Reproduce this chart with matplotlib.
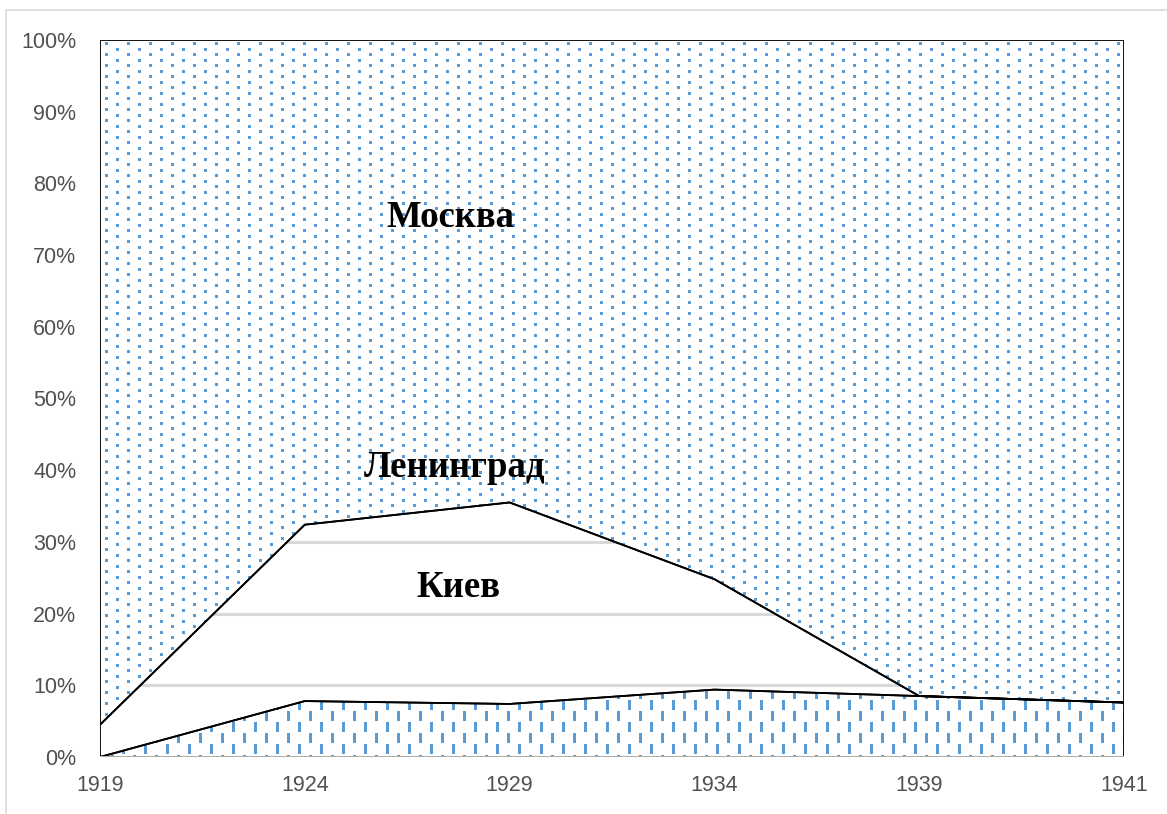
import numpy as np
import matplotlib
matplotlib.use('Agg')
import matplotlib.pyplot as plt
from matplotlib.patches import Polygon, Rectangle

# ---- data (share, %) ----
years = ['1919', '1924', '1929', '1934', '1939', '1941']
kiev = [0.0, 7.8, 7.4, 9.4, 8.5, 7.6]          # bottom layer (dashes)
leningrad = [4.5, 24.6, 28.1, 15.4, 0.0, 0.0]   # middle layer (white)
moscow = [100 - a - b for a, b in zip(kiev, leningrad)]  # top layer (dots)
yticks = list(range(0, 101, 10))
labels = ['Москва', 'Ленинград', 'Киев']
label_pos = [(1.71, 73.9), (1.73, 39.0), (1.75, 22.3)]

BLUE = np.array([0x5B, 0x9B, 0xD5]) / 255.0
W_PX, H_PX = 1167, 814
DPI = 100

fig = plt.figure(figsize=(W_PX / DPI, H_PX / DPI), dpi=DPI)
ax_l, ax_r, ax_t, ax_b = 100, 1124, 40, 757
ax = fig.add_axes([ax_l / W_PX, 1 - ax_b / H_PX, (ax_r - ax_l) / W_PX, (ax_b - ax_t) / H_PX])

# chart-area border
fig.patches.append(Rectangle((6 / W_PX, -0.1), 1.2, 1 - 10 / H_PX + 0.1, transform=fig.transFigure,
                             fill=False, edgecolor='#D9D9D9', lw=1.2, zorder=0))

x = np.arange(len(years))
c1 = np.array(kiev)
c2 = c1 + np.array(leningrad)
c3 = c2 + np.array(moscow)

ax.set_xlim(0, len(years) - 1)
ax.set_ylim(0, 100)

# gridlines
for yv in yticks[1:]:
    ax.axhline(yv, color='#D9D9D9', lw=2.2, zorder=1)

# textures
Hp, Wp = ax_b - ax_t, ax_r - ax_l


def make_dots():
    img = np.ones((Hp, Wp, 4))
    for y0 in range(2, Hp, 11):
        for x0 in range(5, Wp, 22):
            img[y0:y0 + 3, x0:x0 + 3, :3] = BLUE
        y1 = y0 + 6
        for x0 in range(16, Wp, 22):
            img[y1:y1 + 3, x0:x0 + 3, :3] = BLUE
    return img


def make_dashes():
    img = np.ones((Hp, Wp, 4))
    for y0 in range(-22, Hp, 22):
        for x0 in range(0, Wp, 22):
            img[max(y0, 0):max(y0 + 10, 0), x0:x0 + 3, :3] = BLUE
        y1 = y0 + 11
        for x0 in range(11, Wp, 22):
            img[max(y1, 0):max(y1 + 10, 0), x0:x0 + 3, :3] = BLUE
    return img


def area(lower, upper, texture, z):
    verts = np.concatenate([np.column_stack([x, upper]), np.column_stack([x[::-1], lower[::-1]])])
    if texture is not None:
        clip = Polygon(verts, closed=True, transform=ax.transData, facecolor='none', edgecolor='none')
        ax.add_patch(clip)
        im = ax.imshow(texture, extent=(0, len(years) - 1, 0, 100), origin='upper',
                       interpolation='nearest', aspect='auto', zorder=z)
        im.set_clip_path(clip)
    outline = Polygon(verts, closed=True, facecolor='none', edgecolor='black', lw=1.3,
                      zorder=z + 0.5, joinstyle='miter')
    ax.add_patch(outline)


zeros = np.zeros(len(years))
area(c2, c3, make_dots(), 2)
area(c1, c2, None, 2)
area(zeros, c1, make_dashes(), 2)

# bottom axis line
ax.axhline(0, color='#BFBFBF', lw=2.0, zorder=5)

for s in ax.spines.values():
    s.set_visible(False)

ax.set_xticks(x)
ax.set_xticklabels(years)
ax.set_yticks(yticks)
ax.set_yticklabels([f'{v}%' for v in yticks])
ax.tick_params(length=0, labelsize=15.5, labelcolor='#505050')
ax.tick_params(axis='x', pad=13)
ax.tick_params(axis='y', pad=17)
for t in ax.get_xticklabels() + ax.get_yticklabels():
    t.set_fontfamily('Liberation Sans')

for txt, (px, py) in zip(labels, label_pos):
    ax.text(px, py, txt, ha='center', va='baseline', fontsize=26.5, fontweight='bold',
            family='Liberation Serif', color='black', zorder=10)

fig.savefig('out.png', dpi=DPI)
